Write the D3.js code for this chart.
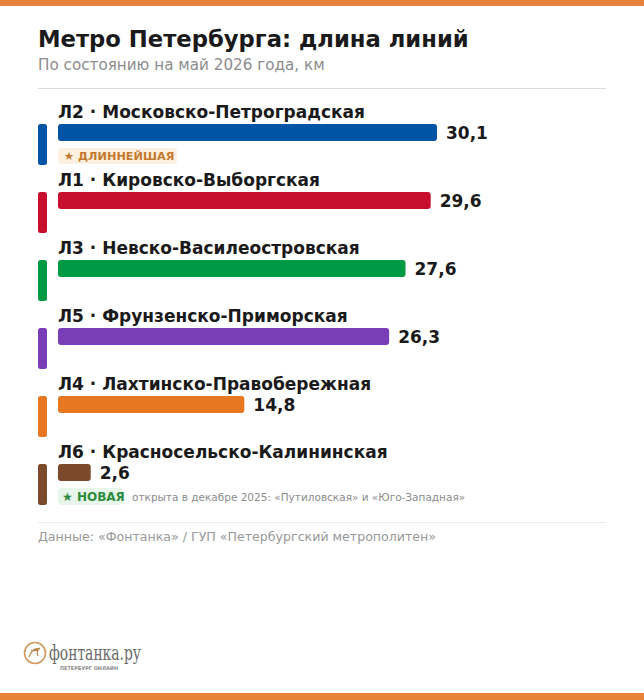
<!DOCTYPE html>
<html lang="ru">
<head>
  <meta charset="UTF-8"/>
  <title>Метро Петербурга: длина линий</title>
  <style>
    *{margin:0;padding:0;box-sizing:border-box}
    body{background:#fff;font-family:"DejaVu Sans",sans-serif}
    svg{display:block}
  </style>
</head>
<body>
  <div id="chart"></div>

  <script src="https://d3js.org/d3.v7.min.js"></script>
  <script>
    // line codes, names, lengths (km) and colours, longest first
    const codes   = ['Л2','Л1','Л3','Л5','Л4','Л6'];
    const names   = ['Московско-Петроградская','Кировско-Выборгская','Невско-Василеостровская',
                     'Фрунзенско-Приморская','Лахтинско-Правобережная','Красносельско-Калининская'];
    const lengths = [30.1, 29.6, 27.6, 26.3, 14.8, 2.6];
    const colors  = ['#0054a6','#c8102e','#009a44','#7a3db8','#e87722','#7a4a2a'];

    const W = 644, H = 700;
    const left = 58, barH = 17, rowStep = 68, firstBar = 124;

    const svg = d3.select('#chart').append('svg')
      .attr('width', W).attr('height', H);

    // orange strips top/bottom
    svg.append('rect').attr('x',0).attr('y',0).attr('width',W).attr('height',6).attr('fill','#e8823a');
    svg.append('rect').attr('x',0).attr('y',693).attr('width',W).attr('height',7).attr('fill','#e8823a');

    svg.append('text').attr('x',38).attr('y',47)
      .attr('font-size',22.7).attr('font-weight','bold').attr('fill','#1a1a1a')
      .text('Метро Петербурга: длина линий');
    svg.append('text').attr('x',38).attr('y',70)
      .attr('font-size',15.2).attr('fill','#8c8c8c')
      .text('По состоянию на май 2026 года, км');
    svg.append('line').attr('x1',38).attr('x2',606).attr('y1',88.5).attr('y2',88.5)
      .attr('stroke','#dcdcdc').attr('stroke-width',1);

    const x = d3.scaleLinear().domain([0, d3.max(lengths)]).range([left, 437]);
    const y = d3.scaleBand().domain(codes).range([firstBar, firstBar + rowStep*codes.length]).paddingInner(0);

    const rows = svg.selectAll('g.row')
      .data(codes.map((c,i)=>({code:c, name:names[i], v:lengths[i], color:colors[i]})))
      .join('g').attr('class','row')
      .attr('transform', d => `translate(0,${y(d.code)})`);

    // left colour strip
    rows.append('rect').attr('x',38).attr('y',0).attr('width',9).attr('height',41)
      .attr('rx',2.5).attr('fill', d=>d.color);

    rows.append('text').attr('x',left).attr('y',-6)
      .attr('font-size',17).attr('font-weight','bold').attr('fill','#1a1a1a')
      .text(d => `${d.code} · ${d.name}`);

    rows.append('rect').attr('x',left).attr('y',0)
      .attr('width', d => x(d.v) - left).attr('height',barH)
      .attr('rx',3).attr('fill', d=>d.color);

    rows.append('text').attr('x', d => x(d.v) + 9).attr('y', barH/2 + 6)
      .attr('font-size',17).attr('font-weight','bold').attr('fill','#1a1a1a')
      .text(d => String(d.v).replace('.', ','));

    // badges
    const longest = rows.filter((d,i)=>i===0);
    longest.append('rect').attr('x',left).attr('y',24).attr('width',119).attr('height',16)
      .attr('rx',4).attr('fill','#fdf0e1');
    longest.append('text').attr('x',left+6).attr('y',36)
      .attr('font-size',11.3).attr('font-weight','bold').attr('fill','#c47a2c')
      .text('★ ДЛИННЕЙШАЯ');

    const newest = rows.filter(d=>d.code==='Л6');
    newest.append('rect').attr('x',left).attr('y',24).attr('width',65).attr('height',17)
      .attr('rx',4).attr('fill','#e7f5ea');
    newest.append('text').attr('x',left+4).attr('y',37)
      .attr('font-size',12).attr('font-weight','bold').attr('fill','#2e8b3e')
      .text('★ НОВАЯ');
    newest.append('text').attr('x',132).attr('y',37)
      .attr('font-size',10.5).attr('fill','#8c8c8c')
      .text('открыта в декабре 2025: «Путиловская» и «Юго-Западная»');

    svg.append('line').attr('x1',38).attr('x2',606).attr('y1',522.5).attr('y2',522.5)
      .attr('stroke','#ececec').attr('stroke-width',1);
    svg.append('text').attr('x',38).attr('y',541)
      .attr('font-size',12.6).attr('fill','#999')
      .text('Данные: «Фонтанка» / ГУП «Петербургский метрополитен»');

    // logo
    const logo = svg.append('g');
    logo.append('circle').attr('cx',35).attr('cy',653).attr('r',10.5)
      .attr('fill','none').attr('stroke','#d39a5e').attr('stroke-width',1.6);
    logo.append('path').attr('d','M29,657 q4,-10 10,-8 q-3,3 -1,7 M31,650 q5,2 9,-2')
      .attr('fill','none').attr('stroke','#b8864f').attr('stroke-width',1.2);
    logo.append('text').attr('x',49).attr('y',660)
      .attr('font-family','"DejaVu Serif Condensed","DejaVu Serif",serif')
      .attr('font-size',20).attr('fill','#6b6b6b')
      .attr('textLength',92).attr('lengthAdjust','spacingAndGlyphs')
      .text('фонтанка.ру');
    logo.append('text').attr('x',60).attr('y',670)
      .attr('font-size',5).attr('font-weight','bold').attr('fill','#8a8a8a')
      .attr('textLength',58).attr('lengthAdjust','spacingAndGlyphs')
      .text('ПЕТЕРБУРГ ОНЛАЙН');
  </script>
</body>
</html>
